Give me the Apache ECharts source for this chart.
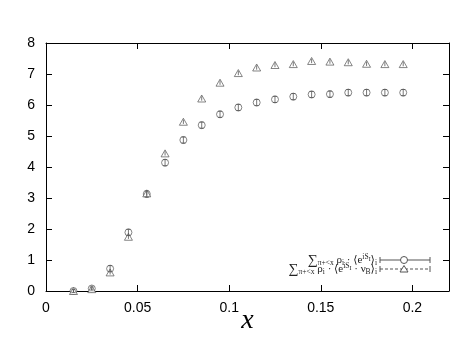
<!DOCTYPE html>
<html>
<head>
<meta charset="utf-8">
<script src="https://cdn.jsdelivr.net/npm/echarts@6/dist/echarts.min.js"></script>
<style>
  html, body { margin: 0; background: #fff; }
  #chart { width: 472px; height: 354px; }
</style>
</head>
<body>
<div id="chart"></div>
<script>
// data
const xValues = [0.015, 0.025, 0.035, 0.045, 0.055, 0.065, 0.075, 0.085, 0.095, 0.105,
  0.115, 0.125, 0.135, 0.145, 0.155, 0.165, 0.175, 0.185, 0.195];
const circleValues = [0.0, 0.08, 0.72, 1.89, 3.13, 4.14, 4.87, 5.35, 5.7, 5.92,
  6.08, 6.18, 6.27, 6.34, 6.35, 6.4, 6.4, 6.4, 6.4];
const circleErr = [0.05, 0.05, 0.1, 0.1, 0.1, 0.1, 0.1, 0.1, 0.1, 0.1,
  0.1, 0.1, 0.1, 0.1, 0.1, 0.1, 0.1, 0.1, 0.1];
const triangleValues = [0.0, 0.06, 0.6, 1.75, 3.15, 4.44, 5.46, 6.21, 6.72, 7.03,
  7.21, 7.29, 7.32, 7.42, 7.4, 7.38, 7.33, 7.32, 7.32];
const triangleErr = [0.04, 0.04, 0.07, 0.07, 0.07, 0.07, 0.07, 0.07, 0.07, 0.07,
  0.07, 0.07, 0.07, 0.07, 0.07, 0.07, 0.07, 0.07, 0.07];
const xLabels = ["0", "0.05", "0.1", "0.15", "0.2"];

const INK = "#555";
const SERIF = "'Liberation Serif', 'DejaVu Serif', serif";
const SANS = "'Liberation Sans', Arial, sans-serif";

function pairs(ys) {
  return xValues.map((x, i) => [x, ys[i]]);
}
function errPairs(ys, es) {
  return xValues.map((x, i) => [x, ys[i], es[i]]);
}

// vertical error bar, optional caps
function makeErr(capW) {
  return function (params, api) {
    const x = api.value(0), y = api.value(1), e = api.value(2);
    const top = api.coord([x, y + e]);
    const bot = api.coord([x, y - e]);
    const st = { stroke: INK, lineWidth: 0.8, fill: null };
    const kids = [{ type: "line", shape: { x1: top[0], y1: top[1], x2: bot[0], y2: bot[1] }, style: st }];
    if (capW > 0) {
      kids.push({ type: "line", shape: { x1: top[0] - capW, y1: top[1], x2: top[0] + capW, y2: top[1] }, style: st });
      kids.push({ type: "line", shape: { x1: bot[0] - capW, y1: bot[1], x2: bot[0] + capW, y2: bot[1] }, style: st });
    }
    return { type: "group", children: kids };
  };
}

const rich = {
  m: { fontFamily: SERIF, fontSize: 11, lineHeight: 14, verticalAlign: "middle", fill: "#222" },
  s: { fontFamily: SERIF, fontSize: 14, lineHeight: 14, verticalAlign: "middle", fill: "#222" },
  sub: { fontFamily: SERIF, fontSize: 7.5, lineHeight: 8, verticalAlign: "bottom", fill: "#222" },
  sup: { fontFamily: SERIF, fontSize: 7.5, lineHeight: 8, verticalAlign: "top", fill: "#222" },
  supsub: { fontFamily: SERIF, fontSize: 6, lineHeight: 6, padding: [3, 0, 0, 0], verticalAlign: "top", fill: "#222" },
};
const label1 = "{s|∑}{sub|π+<x}{m| ρ}{sub|i}{m| · ⟨e}{sup|iS}{supsub|I}{m|⟩}{sub|i}";
const label2 = "{s|∑}{sub|π+<x}{m| ρ}{sub|i}{m| · ⟨e}{sup|iS}{supsub|I}{m| · ν}{sub|B}{m|⟩}{sub|i}";

const chart = echarts.init(document.getElementById("chart"));

const axisLine = { show: true, onZero: false, lineStyle: { color: "#000", width: 1 } };
const tick = { show: true, inside: true, length: 6, lineStyle: { color: "#000" } };

chart.setOption({
  animation: false,
  backgroundColor: "#fff",
  grid: { left: 46, right: 23, top: 43, bottom: 63, show: false },
  xAxis: [
    {
      type: "value", min: 0, max: 0.22, interval: 0.05, position: "bottom",
      axisLine, axisTick: tick, splitLine: { show: false },
      axisLabel: {
        margin: 10, fontSize: 14, color: "#000", fontFamily: SANS,
        showMaxLabel: false,
        formatter: (v) => xLabels[Math.round(v / 0.05)] ?? "",
      },
      name: "x", nameLocation: "middle", nameGap: 16, nameMoveOverlap: false,
      nameTextStyle: { fontFamily: SERIF, fontStyle: "italic", fontSize: 28, color: "#000" },
    },
    {
      type: "value", min: 0, max: 0.22, interval: 0.05, position: "top",
      axisLine, axisTick: tick, axisLabel: { show: false }, splitLine: { show: false },
    },
  ],
  yAxis: [
    {
      type: "value", min: 0, max: 8, interval: 1, position: "left",
      axisLine, axisTick: tick, splitLine: { show: false },
      axisLabel: { margin: 11, fontSize: 14, color: "#000", fontFamily: SANS },
    },
    {
      type: "value", min: 0, max: 8, interval: 1, position: "right",
      axisLine, axisTick: tick, axisLabel: { show: false }, splitLine: { show: false },
    },
  ],
  series: [
    {
      type: "custom", renderItem: makeErr(2), data: errPairs(circleValues, circleErr),
      silent: true, z: 5,
    },
    {
      type: "custom", renderItem: makeErr(0), data: errPairs(triangleValues, triangleErr),
      silent: true, z: 5,
    },
    {
      type: "scatter", data: pairs(circleValues), symbol: "circle", symbolSize: 7,
      itemStyle: { color: "#fff", borderColor: INK, borderWidth: 0.9 }, z: 4,
    },
    {
      type: "scatter", data: pairs(triangleValues), symbol: "triangle", symbolSize: [8, 7],
      itemStyle: { color: "#fff", borderColor: INK, borderWidth: 0.9 }, z: 4,
    },
  ],
  graphic: [
    {
      type: "text", x: 377, y: 260,
      style: { text: label1, rich, align: "right", verticalAlign: "middle" },
    },
    {
      type: "text", x: 377, y: 269,
      style: { text: label2, rich, align: "right", verticalAlign: "middle" },
    },
    // legend key: error bar + circle
    { type: "line", shape: { x1: 380, y1: 260, x2: 430, y2: 260 }, style: { stroke: INK, lineWidth: 1 } },
    { type: "line", shape: { x1: 380, y1: 257, x2: 380, y2: 263 }, style: { stroke: INK, lineWidth: 1 } },
    { type: "line", shape: { x1: 430, y1: 257, x2: 430, y2: 263 }, style: { stroke: INK, lineWidth: 1 } },
    { type: "circle", shape: { cx: 404, cy: 260, r: 3.5 }, style: { fill: "#fff", stroke: INK, lineWidth: 1 } },
    // legend key: dashed bar + triangle
    { type: "line", shape: { x1: 380, y1: 269, x2: 430, y2: 269 }, style: { stroke: INK, lineWidth: 1, lineDash: [3, 2] } },
    { type: "line", shape: { x1: 380, y1: 266, x2: 380, y2: 272 }, style: { stroke: INK, lineWidth: 1 } },
    { type: "line", shape: { x1: 430, y1: 266, x2: 430, y2: 272 }, style: { stroke: INK, lineWidth: 1 } },
    { type: "polygon", shape: { points: [[404, 265.5], [408, 272], [400, 272]] }, style: { fill: "#fff", stroke: INK, lineWidth: 1 } },
  ],
});
</script>
</body>
</html>
